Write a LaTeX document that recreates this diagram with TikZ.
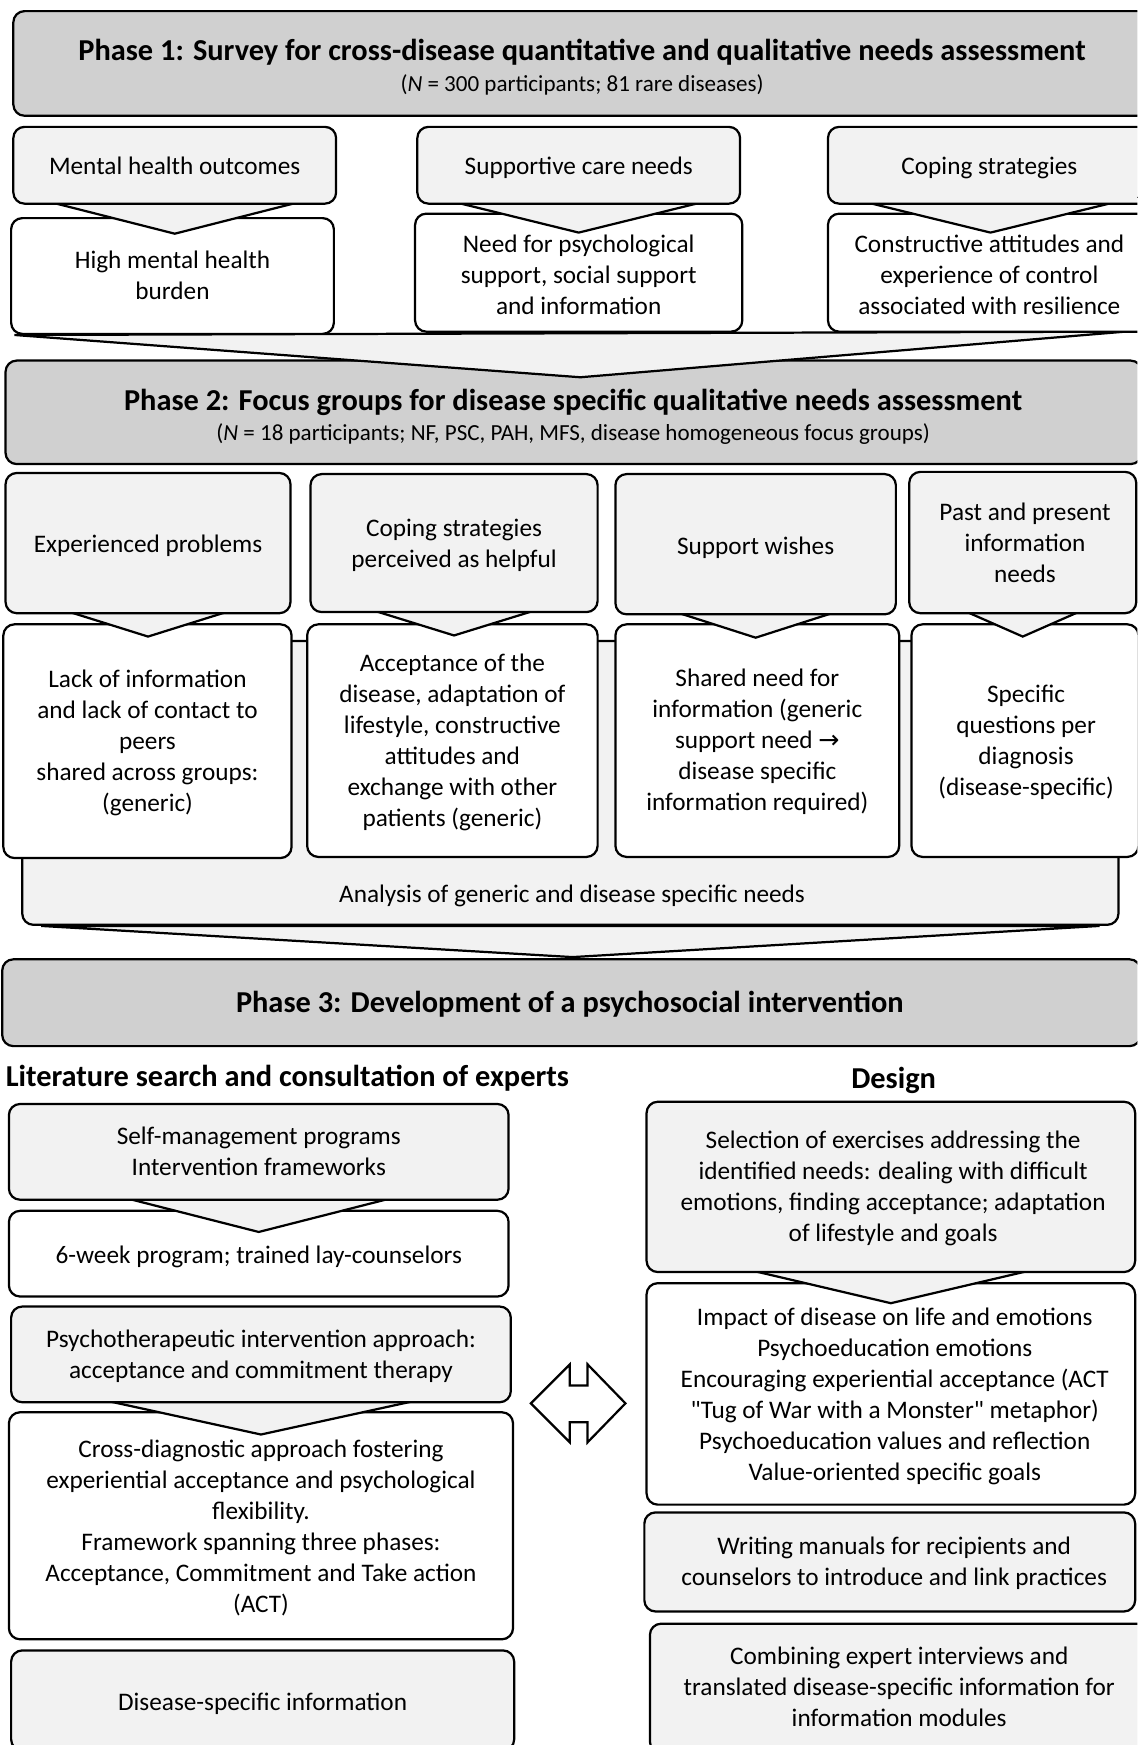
\documentclass[tikz,border=0pt]{standalone}
\usepackage{fontspec}
\setmainfont{Carlito}
\newfontfamily\dejavu{DejaVu Sans}
\usetikzlibrary{calc}
\definecolor{phasegray}{HTML}{D0D0D0}
\definecolor{boxlight}{HTML}{F2F2F2}
\newcommand\bodyfont{\fontsize{22.7}{27.8}\selectfont}
\newcommand\titlefont{\fontsize{27.3}{30}\selectfont\bfseries}
\newcommand\subfont{\fontsize{20.7}{24}\selectfont}
\newcommand\headfont{\fontsize{27.3}{30}\selectfont\bfseries}
\pgfdeclarelayer{lA}
\pgfdeclarelayer{lB}
\pgfdeclarelayer{lC}
\pgfdeclarelayer{lD}
\pgfdeclarelayer{lE}
\pgfsetlayers{lA,lB,lC,lD,lE,main}
\newcommand\chevron[3]{\filldraw[chev] ($(#1.south west)+(#2,-6)$) -- ($(#1.south)+(0,#3)$) -- ($(#1.south east)+(-#2,-6)$) -- cycle;}
\begin{document}
\begin{tikzpicture}[x=1pt,y=-1pt,
  box/.style={rounded corners=10pt,draw=black,line width=2pt,inner sep=0pt},
  phase/.style={box,fill=phasegray},
  upper/.style={box,fill=boxlight},
  lower/.style={box,fill=white},
  chev/.style={fill=boxlight,draw=black,line width=2pt,line join=miter},
  txt/.style={font=\bodyfont,align=center,inner sep=0pt,yshift=-3pt,execute at begin node=\strut,execute at end node=\strut},
  ttl/.style={font=\titlefont,inner sep=0pt,yshift=-3pt,execute at begin node=\strut},
  sub/.style={font=\subfont,inner sep=0pt,yshift=-3pt,execute at begin node=\strut},
  head/.style={font=\headfont,inner sep=0pt,yshift=-3pt,execute at begin node=\strut}]
\useasboundingbox (0,0) rectangle (1022,1568);

% ---------- layer A: phase headers 2 and 3
\begin{pgfonlayer}{lA}
\begin{scope}
\clip (0,0) rectangle (1022,1568);
\node[phase,minimum width=1021,minimum height=93] (P2) at (515.5,370.5) {};
\node[phase,minimum width=1023,minimum height=78] (P3) at (513.5,901) {};
\end{scope}
\end{pgfonlayer}

% ---------- layer C: analysis box
\begin{pgfonlayer}{lC}
\node[upper,minimum width=985,minimum height=255] (AN) at (512.5,703.5) {};
\end{pgfonlayer}

% ---------- layer D: lower (result) boxes
\begin{pgfonlayer}{lD}
\begin{scope}
\clip (0,0) rectangle (1022,1568);
\node[lower,minimum width=290,minimum height=104] (D11) at (155,248) {};
\node[lower,minimum width=294,minimum height=106] (D12) at (520,245) {};
\node[lower,minimum width=292,minimum height=106] (D13) at (890,245) {};
\node[lower,minimum width=259,minimum height=210] (D21) at (132.5,666) {};
\node[lower,minimum width=261,minimum height=209] (D22) at (406.5,665.5) {};
\node[lower,minimum width=255,minimum height=209] (D23) at (680.5,665.5) {};
\node[lower,minimum width=204,minimum height=209] (D24) at (921,665.5) {};
\node[lower,minimum width=449,minimum height=77] (L2) at (232.5,1126.5) {};
\node[lower,minimum width=453,minimum height=204] (L4) at (234.5,1371) {};
\node[lower,minimum width=439,minimum height=199] (R2) at (800.5,1252.5) {};
\end{scope}
\end{pgfonlayer}

% ---------- main: header 1, upper boxes, other boxes
\begin{scope}
\clip (0,0) rectangle (1022,1568);
\node[phase,minimum width=1022,minimum height=94] (P1) at (523,57) {};
\node[upper,minimum width=290,minimum height=69] (U11) at (157,148.5) {};
\node[upper,minimum width=290,minimum height=69] (U12) at (520,148.5) {};
\node[upper,minimum width=292,minimum height=69] (U13) at (890,148.5) {};
\node[upper,minimum width=256,minimum height=126] (U21) at (133,488) {};
\node[upper,minimum width=258,minimum height=124] (U22) at (408,488) {};
\node[upper,minimum width=252,minimum height=126] (U23) at (679,489) {};
\node[upper,minimum width=204,minimum height=127] (U24) at (919,487.5) {};
\node[upper,minimum width=449,minimum height=86] (L1) at (232.5,1035) {};
\node[upper,minimum width=449,minimum height=86] (L3) at (234.5,1217) {};
\node[upper,minimum width=452,minimum height=90] (L5) at (236,1528) {};
\node[upper,minimum width=439,minimum height=153] (R1) at (800.5,1066.5) {};
\node[upper,minimum width=441,minimum height=89] (R3) at (799.5,1403.5) {};
\node[upper,minimum width=448,minimum height=116] (R4) at (808,1517) {};
\end{scope}

% ---------- texts
\node[ttl] (P1t) at (523,45) {Phase 1: Survey for cross-disease quantitative and qualitative needs assessment};
\node[sub] (P1s) at (523,74) {(\textit{N} = 300 participants; 81 rare diseases)};
\node[ttl] (P2t) at (515,360) {Phase 2: Focus groups for disease specific qualitative needs assessment};
\node[sub] (P2s) at (515,388) {(\textit{N} = 18 participants; NF, PSC, PAH, MFS, disease homogeneous focus groups)};
\node[ttl] (P3t) at (512,901) {Phase 3: Development of a psychosocial intervention};
\node[head,anchor=west] (H1) at (5,967) {Literature search and consultation of experts};
\node[head] (H2) at (803,969) {Design};

\node[txt] (U11t) at (157,148) {Mental health outcomes};
\node[txt] (U12t) at (520,148) {Supportive care needs};
\node[txt] (U13t) at (889,148) {Coping strategies};
\node[txt] (D11t) at (155,248.5) {High mental health\\burden};
\node[txt] (D12t) at (520,248) {Need for psychological\\support, social support\\and information};
\node[txt] (D13t) at (889,248) {Constructive attitudes and\\experience of control\\associated with resilience};

\node[txt] (U21t) at (133,488) {Experienced problems};
\node[txt] (U22t) at (408,489) {Coping strategies\\perceived as helpful};
\node[txt] (U23t) at (679,490) {Support wishes};
\node[txt] (U24t) at (921,488.5) {Past and present\\information\\needs};
\node[txt] (D21t) at (132.5,666.5) {Lack of information\\and lack of contact to\\peers\\shared across groups:\\(generic)};
\node[txt] (D22t) at (406.5,666) {Acceptance of the\\disease, adaptation of\\lifestyle, constructive\\attitudes and\\exchange with other\\patients (generic)};
\node[txt] (D23t) at (680.5,666) {Shared need for\\information (generic\\support need {\dejavu →}\\disease specific\\information required)};
\node[txt] (D24t) at (922,666) {Specific\\questions per\\diagnosis\\(disease-specific)};
\node[txt] (ANt) at (514,802) {Analysis of generic and disease specific needs};

\node[txt] (L1t) at (232.5,1036) {Self-management programs\\Intervention frameworks};
\node[txt] (L2t) at (232.5,1127) {6-week program; trained lay-counselors};
\node[txt] (L3t) at (234.5,1218) {Psychotherapeutic intervention approach:\\acceptance and commitment therapy};
\node[txt] (L4t) at (234.5,1372.5) {Cross-diagnostic approach fostering\\experiential acceptance and psychological\\flexibility.\\Framework spanning three phases:\\Acceptance, Commitment and Take action\\(ACT)};
\node[txt] (L5t) at (236,1528) {Disease-specific information};
\node[txt] (R1t) at (802.5,1067) {Selection of exercises addressing the\\identified needs: dealing with difficult\\emotions, finding acceptance; adaptation\\of lifestyle and goals};
\node[txt] (R2t) at (804,1254) {Impact of disease on life and emotions\\Psychoeducation emotions\\Encouraging experiential acceptance (ACT\\\textquotedbl Tug of War with a Monster\textquotedbl{} metaphor)\\Psychoeducation values and reflection\\Value-oriented specific goals};
\node[txt] (R3t) at (803.5,1404) {Writing manuals for recipients and\\counselors to introduce and link practices};
\node[txt] (R4t) at (808,1517) {Combining expert interviews and\\translated disease-specific information for\\information modules};

% double arrow between the two columns
\draw[line width=2pt,fill=white,line join=miter] (477,1261) -- (512,1226) -- (512,1245) -- (528,1245) -- (528,1226) -- (562,1261) -- (528,1296) -- (528,1278) -- (512,1278) -- (512,1296) -- cycle;

% ---------- layer B: big chevrons
\begin{pgfonlayer}{lB}
\filldraw[chev] ($(D11.south west)+(4,0)$) -- ($(D13.south east)+(-26,-1)$) -- ($(P2.north)+(6,16)$) -- cycle;
\filldraw[chev] ($(AN.south west)+(18,0)$) -- ($(AN.south east)+(-18,0)$) -- ($(P3.north)+(1,-1)$) -- cycle;
\end{pgfonlayer}

% ---------- layer E: small chevrons
\begin{pgfonlayer}{lE}
\chevron{U11}{20}{26}
\chevron{U12}{20}{25}
\chevron{U13}{20}{25}
\chevron{U21}{46}{20}
\chevron{U22}{46}{20}
\chevron{U23}{46}{20}
\chevron{U24}{44}{20}
\chevron{L1}{92}{28}
\chevron{L3}{70}{28}
\chevron{R1}{80}{27}
\end{pgfonlayer}
\end{tikzpicture}
\end{document}
